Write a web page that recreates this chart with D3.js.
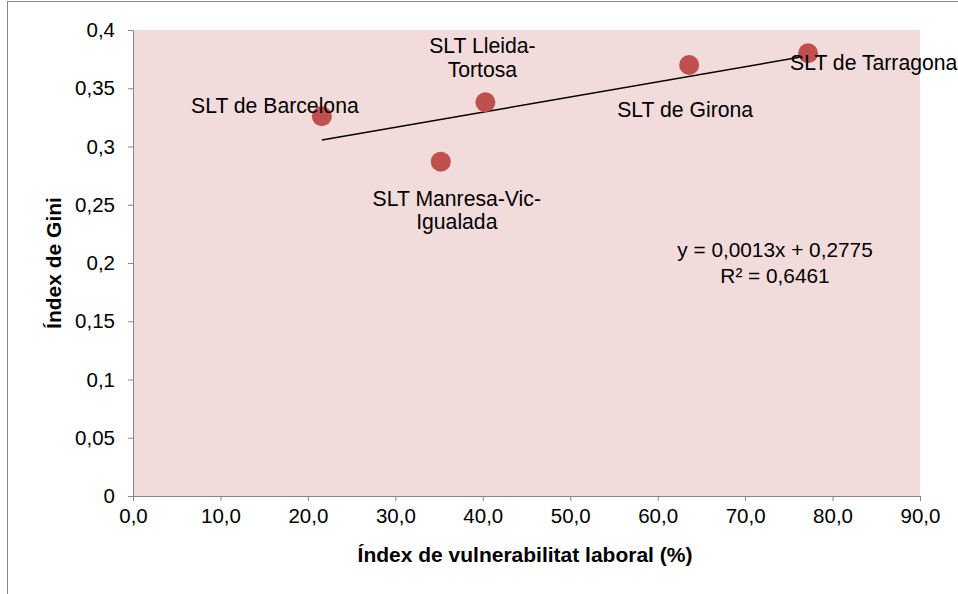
<!DOCTYPE html>
<html>
<head>
<meta charset="utf-8">
<script src="https://cdn.jsdelivr.net/npm/d3@7"></script>
<style>
  body { margin: 0; background: #fff; }
  svg text { font-family: "Liberation Sans", Arial, sans-serif; fill: #000; }
</style>
</head>
<body>
<div id="chart"></div>
<script>
// data
const names = ["SLT de Barcelona", "SLT Manresa-Vic-Igualada", "SLT Lleida-Tortosa", "SLT de Girona", "SLT de Tarragona"];
const vulnerab = [21.6, 35.2, 40.3, 63.6, 77.2];
const gini = [0.326, 0.287, 0.338, 0.370, 0.380];
const labelLines = [["SLT de Barcelona"], ["SLT Manresa-Vic-", "Igualada"], ["SLT Lleida-", "Tortosa"], ["SLT de Girona"], ["SLT de Tarragona"]];
const xTicks = [0, 10, 20, 30, 40, 50, 60, 70, 80, 90];
const yTicks = [0, 0.05, 0.1, 0.15, 0.2, 0.25, 0.3, 0.35, 0.4];
const slope = 0.0013, intercept = 0.2775;
const eqLines = ["y = 0,0013x + 0,2775", "R² = 0,6461"];

const W = 958, H = 594;
const margin = { top: 30, right: 38, bottom: 98, left: 133 },
    width = W - margin.left - margin.right,
    height = H - margin.top - margin.bottom;

const svg = d3.select("#chart").append("svg")
    .attr("width", W)
    .attr("height", H);

// outer chart border
svg.append("rect")
    .attr("x", 7.5).attr("y", 1.5)
    .attr("width", W + 20).attr("height", H + 20)
    .attr("fill", "none").attr("stroke", "#868686").attr("stroke-width", 1);

const g = svg.append("g")
    .attr("transform", "translate(" + margin.left + "," + margin.top + ")");

const xScale = d3.scaleLinear().domain([0, 90]).range([0, width]);
const yScale = d3.scaleLinear().domain([0, 0.4]).range([height, 0]);

g.append("rect")
    .attr("width", width).attr("height", height)
    .attr("fill", "#f2dcdb");

const fmt = d => d.toFixed(1).replace(".", ",");
const fmtY = d => d === 0 ? "0" : String(+d.toFixed(2)).replace(".", ",");

const xAxis = g.append("g")
    .attr("transform", "translate(0," + height + ")")
    .call(d3.axisBottom(xScale).tickValues(xTicks).tickFormat(fmt).tickSize(5).tickSizeOuter(0).tickPadding(7));
const yAxis = g.append("g")
    .call(d3.axisLeft(yScale).tickValues(yTicks).tickFormat(fmtY).tickSize(5).tickSizeOuter(0).tickPadding(13));

[xAxis, yAxis].forEach(a => {
    a.select(".domain").attr("stroke", "#868686");
    a.selectAll(".tick line").attr("stroke", "#868686");
    a.selectAll(".tick text").attr("font-size", "20.5px").attr("fill", "#000")
        .style("font-family", "Liberation Sans, Arial, sans-serif");
});

// trend line
const x0 = d3.min(vulnerab), x1 = d3.max(vulnerab);
g.append("line")
    .attr("x1", xScale(x0)).attr("y1", yScale(slope * x0 + intercept))
    .attr("x2", xScale(x1)).attr("y2", yScale(slope * x1 + intercept))
    .attr("stroke", "#000").attr("stroke-width", 1.5);

// points
g.selectAll(".circulo").data(d3.range(names.length)).enter()
    .append("circle")
    .attr("class", "circulo")
    .attr("cx", i => xScale(vulnerab[i]))
    .attr("cy", i => yScale(gini[i]))
    .attr("r", 10)
    .attr("fill", "#c0504d");

// data labels (offsets relative to point)
const labelOff = [[-47, -3, "middle"], [16, 44, "middle"], [-3, -49, "middle"], [-4, 52, "middle"], [-18, 17, "start"]];
names.forEach((n, i) => {
    const t = g.append("text")
        .attr("x", xScale(vulnerab[i]) + labelOff[i][0])
        .attr("y", yScale(gini[i]) + labelOff[i][1])
        .attr("text-anchor", labelOff[i][2])
        .attr("font-size", "21.2px");
    labelLines[i].forEach((l, k) => {
        t.append("tspan")
            .attr("x", xScale(vulnerab[i]) + labelOff[i][0])
            .attr("dy", k === 0 ? 0 : 23.5)
            .text(l);
    });
});

// equation
const eq = g.append("text")
    .attr("x", 642).attr("y", 227)
    .attr("text-anchor", "middle").attr("font-size", "20.8px");
eqLines.forEach((l, k) => {
    eq.append("tspan").attr("x", 642).attr("dy", k === 0 ? 0 : 26).text(l);
});

// axis titles
svg.append("text")
    .attr("x", 525)
    .attr("y", 562)
    .attr("text-anchor", "middle")
    .attr("font-size", "21px").attr("font-weight", "bold")
    .text("Índex de vulnerabilitat laboral (%)");

svg.append("text")
    .attr("transform", "translate(61," + (margin.top + height / 2) + ") rotate(-90)")
    .attr("text-anchor", "middle")
    .attr("font-size", "21px").attr("font-weight", "bold")
    .text("Índex de Gini");
</script>
</body>
</html>
